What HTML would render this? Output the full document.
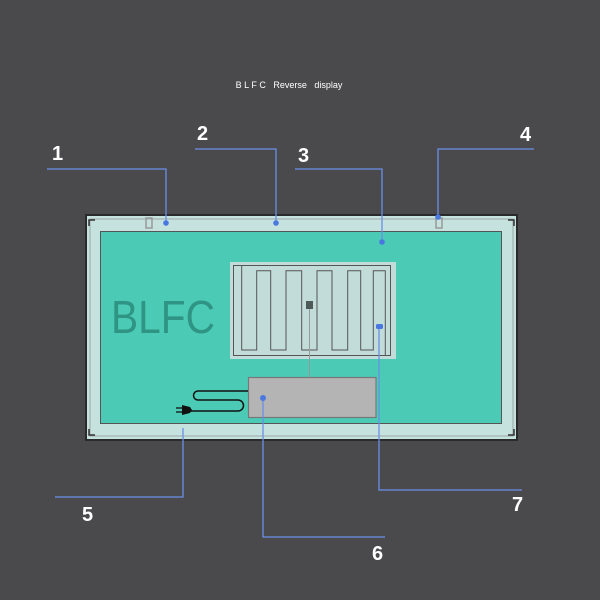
<!DOCTYPE html>
<html><head><meta charset="utf-8"><style>html,body{margin:0;padding:0;background:#4a4a4c}svg{display:block}</style></head><body>
<svg width="600" height="600" viewBox="0 0 600 600" xmlns="http://www.w3.org/2000/svg">
<rect width="600" height="600" fill="#4a4a4c"/>
<text x="289" y="88" fill="#fff" font-family="Liberation Sans, sans-serif" font-size="9" text-anchor="middle" xml:space="preserve">B L F C   Reverse   display</text>
<!-- frame -->
<rect x="85" y="214" width="433" height="227" fill="#2a2a2a"/>
<rect x="87" y="216" width="429" height="223" fill="#c6e2df"/>
<rect x="90" y="219" width="423" height="217" fill="none" stroke="#9aa8a6" stroke-width="1"/>
<g stroke="#333" stroke-width="1.5" fill="none">
<path d="M89,226 V220 H95"/><path d="M508,220 H514 V226"/><path d="M89,429 V435 H95"/><path d="M508,435 H514 V429"/>
</g>
<rect x="100.5" y="231.5" width="401" height="192" fill="#4bcbb6" stroke="#555" stroke-width="1"/>
<rect x="146" y="218" width="6" height="10" fill="none" stroke="#999" stroke-width="1.5"/>
<rect x="436" y="218" width="6" height="10" fill="none" stroke="#999" stroke-width="1.5"/>
<text x="111" y="333" fill="#2f9483" font-family="Liberation Sans, sans-serif" font-size="46" textLength="104" lengthAdjust="spacingAndGlyphs">BLFC</text>
<!-- heater -->
<rect x="230" y="262" width="166" height="97" fill="#c2dcda"/>
<rect x="233.5" y="265.5" width="157" height="90" fill="none" stroke="#555" stroke-width="1"/>
<path d="M241.7,266 V350 H256.7 V270.7 H270.7 V350 H286 V270.7 H301.7 V350 H317 V270.7 H332 V350 H347.7 V270.7 H360.7 V350 H373.3 V270.7 H385.3 V356" fill="none" stroke="#555" stroke-width="1"/>
<rect x="306" y="301" width="7" height="8" fill="#4f5a58"/>
<line x1="309.5" y1="309" x2="309.5" y2="378" stroke="#999" stroke-width="1"/>
<!-- box -->
<rect x="248.5" y="377.5" width="127.5" height="40" fill="#b4b4b4" stroke="#777" stroke-width="1.2"/>
<!-- cord -->
<path d="M248,391 H198 a4,4 0 0 0 0,9 H238 a4,4 0 0 1 0,11 H190" fill="none" stroke="#111" stroke-width="1.5"/>
<path d="M182,405 L190,407 L192,410 L190,413 L182,415 Z" fill="#111"/>
<line x1="176" y1="408" x2="183" y2="408" stroke="#111" stroke-width="1.3"/>
<line x1="176" y1="412" x2="183" y2="412" stroke="#111" stroke-width="1.3"/>
<!-- leaders -->
<g stroke="#6a8fe8" stroke-width="1.3" fill="none">
<path d="M47,169 H166 V223"/>
<path d="M195,149 H276 V223"/>
<path d="M295,169 H382 V242"/>
<path d="M534,149 H438 V217"/>
<path d="M183,428 V497 H55"/>
<path d="M263,398 V537 H385"/>
<path d="M379,327 V490 H522"/>
</g>
<g fill="#4a78e0">
<circle cx="166" cy="223" r="2.8"/><circle cx="276" cy="223" r="2.8"/><circle cx="438" cy="217" r="2.8"/><circle cx="382" cy="242" r="2.8"/><rect x="376" y="324" width="7" height="5" rx="1.5"/><circle cx="263" cy="398" r="3"/>
</g>
<g fill="#fff" font-family="Liberation Sans, sans-serif" font-size="20" font-weight="bold">
<text x="52" y="160">1</text><text x="197" y="140">2</text><text x="298" y="162">3</text><text x="520" y="141">4</text>
<text x="82" y="521">5</text><text x="372" y="560">6</text><text x="512" y="511">7</text>
</g>
</svg>
</body></html>
